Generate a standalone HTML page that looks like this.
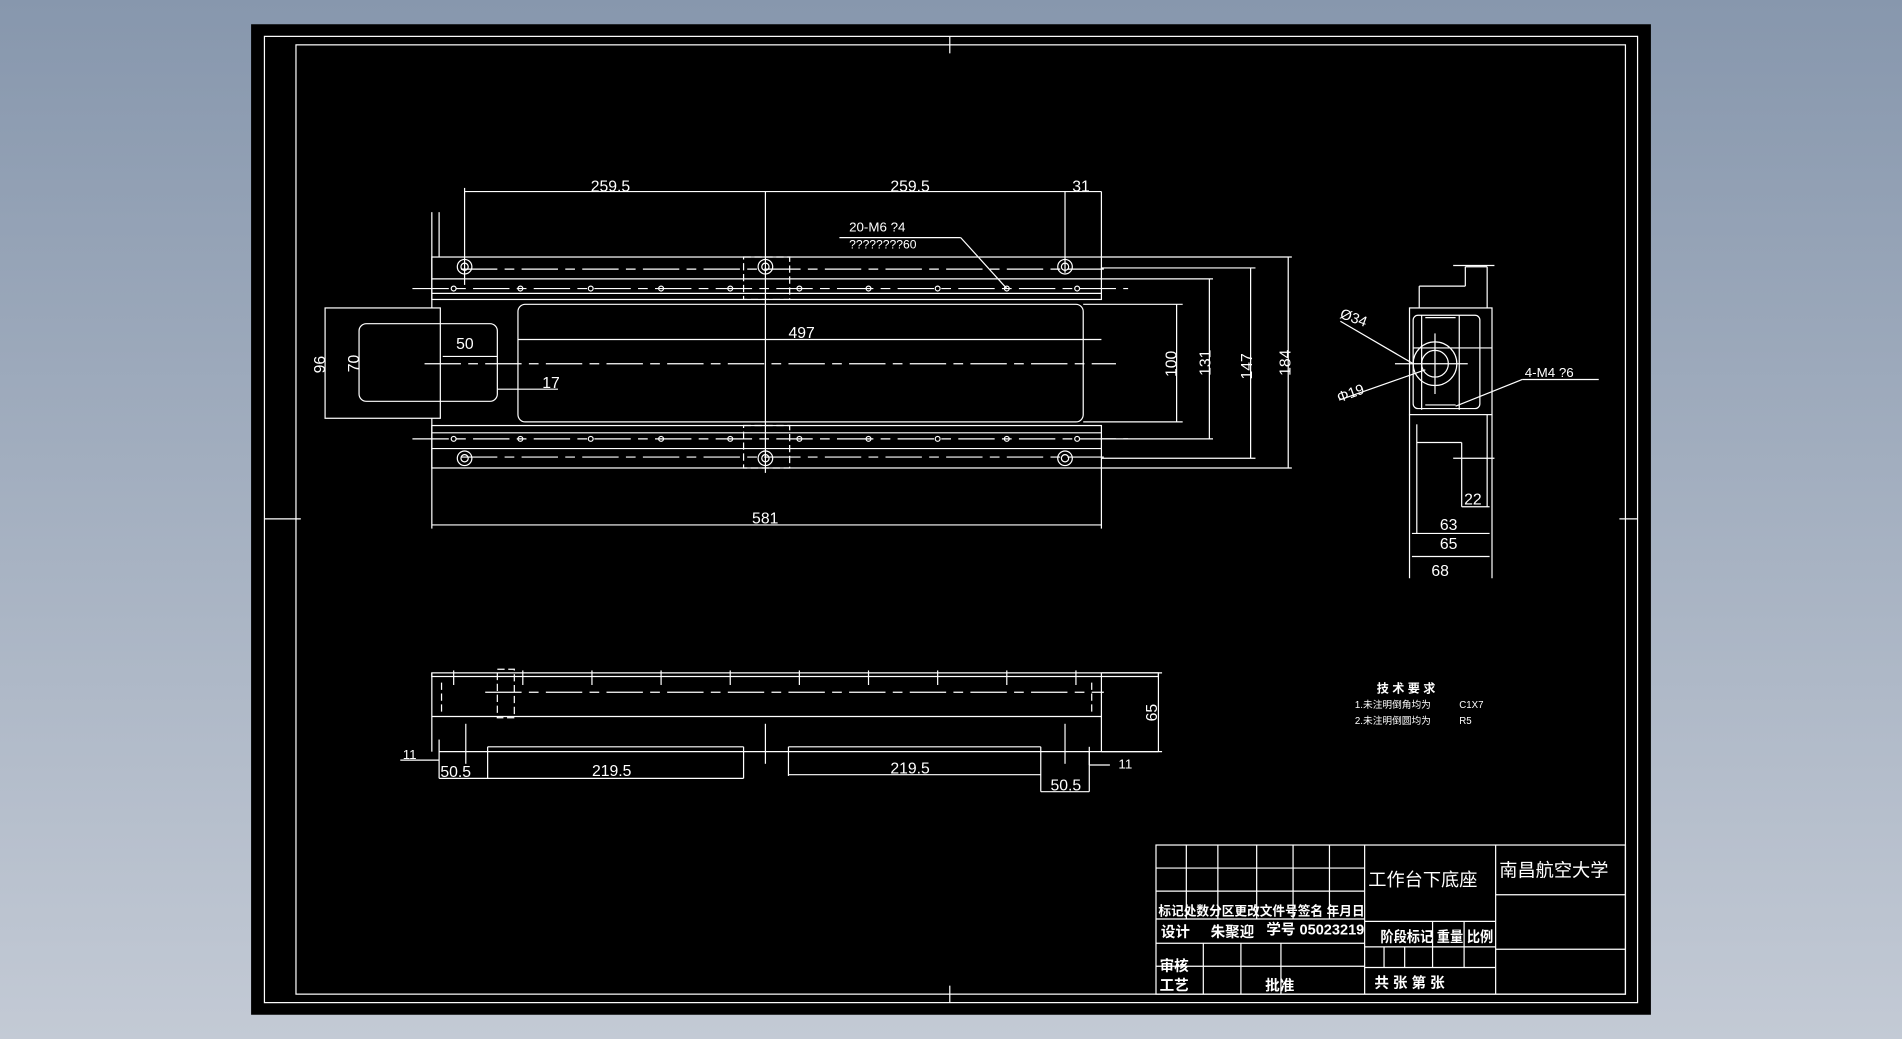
<!DOCTYPE html>
<html><head><meta charset="utf-8"><style>
html,body{margin:0;padding:0;width:1902px;height:1039px;overflow:hidden;background:linear-gradient(#8797ad,#c3cad5);}
svg{display:block}
text{fill:#fff;font-family:"Liberation Sans","Noto Sans CJK SC",sans-serif}
</style></head><body>
<svg width="1902" height="1039" viewBox="0 0 1568 857" preserveAspectRatio="none">
<rect x="207" y="20" width="1154" height="817" fill="#000"/>
<g stroke="#fff" stroke-width="1" fill="none">
<rect x="218" y="30" width="1132" height="797"/>
<rect x="244" y="37" width="1096" height="783"/>
<line x1="783" y1="30" x2="783" y2="44"/><line x1="783" y1="813" x2="783" y2="827"/>
<line x1="218" y1="428" x2="248" y2="428"/><line x1="1335" y1="428" x2="1350" y2="428"/>
<rect x="356" y="212" width="552" height="35"/>
<line x1="356" y1="230" x2="908" y2="230"/>
<line x1="356" y1="242" x2="908" y2="242"/>
<rect x="356" y="351" width="552" height="35"/>
<line x1="356" y1="357" x2="908" y2="357"/>
<line x1="356" y1="370" x2="908" y2="370"/>
<rect x="427" y="251" width="466" height="97" rx="6"/>
<rect x="268" y="254" width="95" height="91"/>
<rect x="296" y="267" width="114" height="64" rx="6"/>
<line x1="356" y1="175" x2="356" y2="254"/><line x1="362" y1="175" x2="362" y2="212"/>
<line x1="356" y1="345" x2="356" y2="386"/>
<g stroke-dasharray="30,6,8,6">
<line x1="340" y1="238" x2="930" y2="238"/>
<line x1="350" y1="300" x2="920" y2="300"/>
<line x1="340" y1="362" x2="930" y2="362"/>
<line x1="380" y1="222" x2="910" y2="222"/>
<line x1="380" y1="377" x2="910" y2="377"/>
</g>
<rect x="613" y="212" width="38" height="35" stroke-dasharray="6,3"/>
<rect x="613" y="351" width="38" height="35" stroke-dasharray="6,3"/>
<circle cx="383" cy="220" r="6"/><circle cx="383" cy="220" r="3"/>
<circle cx="631" cy="220" r="6"/><circle cx="631" cy="220" r="3"/>
<circle cx="878" cy="220" r="6"/><circle cx="878" cy="220" r="3"/>
<circle cx="383" cy="378" r="6"/><circle cx="383" cy="378" r="3"/>
<circle cx="631" cy="378" r="6"/><circle cx="631" cy="378" r="3"/>
<circle cx="878" cy="378" r="6"/><circle cx="878" cy="378" r="3"/>
<g>
<circle cx="374" cy="238" r="2"/><circle cx="429" cy="238" r="2"/><circle cx="487" cy="238" r="2"/><circle cx="545" cy="238" r="2"/><circle cx="602" cy="238" r="2"/><circle cx="659" cy="238" r="2"/><circle cx="716" cy="238" r="2"/><circle cx="773" cy="238" r="2"/><circle cx="830" cy="238" r="2"/><circle cx="888" cy="238" r="2"/>
<circle cx="374" cy="362" r="2"/><circle cx="429" cy="362" r="2"/><circle cx="487" cy="362" r="2"/><circle cx="545" cy="362" r="2"/><circle cx="602" cy="362" r="2"/><circle cx="659" cy="362" r="2"/><circle cx="716" cy="362" r="2"/><circle cx="773" cy="362" r="2"/><circle cx="830" cy="362" r="2"/><circle cx="888" cy="362" r="2"/>
</g>
<line x1="631" y1="158" x2="631" y2="390"/>
<line x1="383" y1="155" x2="383" y2="235"/><line x1="878" y1="158" x2="878" y2="225"/><line x1="908" y1="158" x2="908" y2="212"/>
<line x1="383" y1="158" x2="908" y2="158"/>
<line x1="692" y1="196" x2="792" y2="196"/><line x1="792" y1="196" x2="830" y2="238"/>
<line x1="356" y1="386" x2="356" y2="436"/><line x1="908" y1="386" x2="908" y2="436"/>
<line x1="356" y1="433" x2="908" y2="433"/>
<line x1="427" y1="280" x2="908" y2="280"/>
<line x1="410" y1="294" x2="365" y2="294"/><line x1="410" y1="321" x2="460" y2="321"/>
<line x1="893" y1="251" x2="975" y2="251"/><line x1="893" y1="348" x2="975" y2="348"/><line x1="970" y1="251" x2="970" y2="348"/>
<line x1="908" y1="230" x2="1000" y2="230"/><line x1="908" y1="362" x2="1000" y2="362"/><line x1="997" y1="230" x2="997" y2="362"/>
<line x1="908" y1="221" x2="1035" y2="221"/><line x1="908" y1="378" x2="1035" y2="378"/><line x1="1031" y1="221" x2="1031" y2="378"/>
<line x1="908" y1="212" x2="1065" y2="212"/><line x1="908" y1="386" x2="1065" y2="386"/><line x1="1062" y1="212" x2="1062" y2="386"/>
<rect x="1162" y="254" width="68" height="88"/>
<rect x="1165" y="260" width="55" height="77" rx="4"/>
<line x1="1170" y1="236" x2="1170" y2="254"/><line x1="1170" y1="236" x2="1208" y2="236"/><line x1="1208" y1="236" x2="1208" y2="220"/><line x1="1208" y1="220" x2="1226" y2="220"/><line x1="1226" y1="220" x2="1226" y2="254"/>
<line x1="1198" y1="219" x2="1232" y2="219"/><line x1="1165" y1="287" x2="1230" y2="287"/>
<line x1="1175" y1="262" x2="1200" y2="262"/><line x1="1175" y1="334" x2="1200" y2="334"/>
<line x1="1172" y1="260" x2="1172" y2="338"/><line x1="1203" y1="260" x2="1203" y2="338"/>
<circle cx="1183" cy="300" r="18"/><circle cx="1183" cy="300" r="11"/>
<line x1="1183" y1="275" x2="1183" y2="325"/><line x1="1150" y1="300" x2="1210" y2="300"/>
<line x1="1105" y1="265" x2="1165" y2="300"/><line x1="1104" y1="330" x2="1175" y2="305"/>
<line x1="1200" y1="335" x2="1255" y2="313"/><line x1="1255" y1="313" x2="1318" y2="313"/>
<line x1="1162" y1="342" x2="1162" y2="477"/><line x1="1230" y1="342" x2="1230" y2="477"/>
<line x1="1168" y1="350" x2="1168" y2="440"/><line x1="1168" y1="365" x2="1205" y2="365"/><line x1="1205" y1="365" x2="1205" y2="418"/><line x1="1205" y1="418" x2="1228" y2="418"/>
<line x1="1198" y1="378" x2="1232" y2="378"/><line x1="1226" y1="342" x2="1226" y2="418"/>
<line x1="1164" y1="440" x2="1228" y2="440"/><line x1="1164" y1="459" x2="1228" y2="459"/>
<rect x="356" y="555" width="599" height="3"/>
<line x1="356" y1="555" x2="356" y2="620"/><line x1="908" y1="555" x2="908" y2="620"/>
<line x1="356" y1="591" x2="908" y2="591"/>
<line x1="362" y1="620" x2="955" y2="620"/>
<line x1="955" y1="555" x2="955" y2="620"/>
<g stroke-dasharray="30,6,8,6"><line x1="400" y1="571" x2="910" y2="571"/></g>
<rect x="410" y="552" width="14" height="40" stroke-dasharray="6,3"/>
<line x1="364" y1="563" x2="364" y2="590" stroke-dasharray="6,3"/><line x1="900" y1="563" x2="900" y2="590" stroke-dasharray="6,3"/>
<g>
<line x1="374" y1="553" x2="374" y2="565"/><line x1="431" y1="553" x2="431" y2="565"/><line x1="488" y1="553" x2="488" y2="565"/><line x1="545" y1="553" x2="545" y2="565"/><line x1="602" y1="553" x2="602" y2="565"/><line x1="659" y1="553" x2="659" y2="565"/><line x1="716" y1="553" x2="716" y2="565"/><line x1="773" y1="553" x2="773" y2="565"/><line x1="830" y1="553" x2="830" y2="565"/><line x1="887" y1="553" x2="887" y2="565"/>
<line x1="384" y1="597" x2="384" y2="630"/><line x1="631" y1="597" x2="631" y2="630"/><line x1="878" y1="597" x2="878" y2="630"/>
</g>
<line x1="402" y1="616" x2="402" y2="642"/><line x1="402" y1="616" x2="613" y2="616"/><line x1="613" y1="616" x2="613" y2="642"/><line x1="362" y1="642" x2="613" y2="642"/>
<line x1="650" y1="616" x2="650" y2="640"/><line x1="650" y1="616" x2="858" y2="616"/><line x1="650" y1="639" x2="858" y2="639"/>
<line x1="858" y1="616" x2="858" y2="653"/><line x1="898" y1="616" x2="898" y2="653"/><line x1="858" y1="653" x2="898" y2="653"/>
<line x1="898" y1="620" x2="898" y2="631"/><line x1="898" y1="631" x2="915" y2="631"/>
<line x1="330" y1="627" x2="362" y2="627"/><line x1="362" y1="610" x2="362" y2="642"/>
<line x1="908" y1="620" x2="958" y2="620"/><line x1="908" y1="555" x2="958" y2="555"/>
<rect x="953" y="697" width="387" height="123"/>
<line x1="1125" y1="697" x2="1125" y2="820"/><line x1="1233" y1="697" x2="1233" y2="820"/>
<line x1="953" y1="716" x2="1125" y2="716"/><line x1="953" y1="735" x2="1125" y2="735"/><line x1="953" y1="758" x2="1125" y2="758"/>
<line x1="953" y1="778" x2="1125" y2="778"/><line x1="953" y1="797" x2="1125" y2="797"/>
<line x1="978" y1="697" x2="978" y2="758"/><line x1="1004" y1="697" x2="1004" y2="758"/><line x1="1036" y1="697" x2="1036" y2="758"/><line x1="1066" y1="697" x2="1066" y2="758"/><line x1="1096" y1="697" x2="1096" y2="758"/>
<line x1="992" y1="778" x2="992" y2="820"/><line x1="1023" y1="778" x2="1023" y2="820"/><line x1="1056" y1="778" x2="1056" y2="820"/>
<line x1="1125" y1="760" x2="1233" y2="760"/><line x1="1125" y1="781" x2="1233" y2="781"/><line x1="1125" y1="798" x2="1233" y2="798"/>
<line x1="1233" y1="738" x2="1340" y2="738"/><line x1="1233" y1="783" x2="1340" y2="783"/>
<line x1="1181" y1="760" x2="1181" y2="798"/><line x1="1207" y1="760" x2="1207" y2="798"/>
<line x1="1141" y1="781" x2="1141" y2="798"/><line x1="1158" y1="781" x2="1158" y2="798"/>
</g>
<g font-size="13">
<text x="487" y="158">259.5</text><text x="734" y="158">259.5</text><text x="884" y="158">31</text>
<text x="700" y="191" font-size="11">20-M6  ?4</text><text x="700" y="205" font-size="10">????????60</text>
<text x="650" y="279">497</text><text x="376" y="288">50</text><text x="447" y="320">17</text>
<text x="620" y="432">581</text>
<text transform="translate(268,308) rotate(-90)">96</text>
<text transform="translate(296,307) rotate(-90)">70</text>
<text transform="translate(970,311) rotate(-90)">100</text>
<text transform="translate(998,310) rotate(-90)">131</text>
<text transform="translate(1032,313) rotate(-90)">147</text>
<text transform="translate(1064,310) rotate(-90)">184</text>
<text transform="translate(1104,262) rotate(20)" font-size="12">Ø34</text>
<text transform="translate(1104,332) rotate(-20)" font-size="12">Φ19</text>
<text x="1257" y="311" font-size="11">4-M4  ?6</text>
<text x="1207" y="416">22</text><text x="1187" y="437">63</text><text x="1187" y="453">65</text><text x="1180" y="475">68</text>
<text transform="translate(954,595) rotate(-90)">65</text>
<text x="363" y="641">50.5</text><text x="488" y="640">219.5</text><text x="734" y="638">219.5</text><text x="866" y="652">50.5</text>
<text x="332" y="626" font-size="11">11</text><text x="922" y="634" font-size="11">11</text>
<text x="1135" y="571" font-size="10" font-weight="bold">技 术 要 求</text>
<text x="1117" y="584" font-size="8">1.未注明倒角均为</text><text x="1203" y="584" font-size="8">C1X7</text>
<text x="1117" y="597" font-size="8">2.未注明倒圆均为</text><text x="1203" y="597" font-size="8">R5</text>
<text x="1128" y="731" font-size="15">工作台下底座</text>
<text x="1236" y="723" font-size="15">南昌航空大学</text>
<text x="955" y="755" font-size="11" font-weight="bold" textLength="170" lengthAdjust="spacingAndGlyphs">标记处数分区更改文件号签名 年月日</text>
<text x="957" y="773" font-size="12" font-weight="bold">设计</text><text x="998" y="773" font-size="12" font-weight="bold">朱聚迎</text><text x="1044" y="771" font-size="12" font-weight="bold">学号 05023219</text>
<text x="1138" y="777" font-size="12" font-weight="bold" textLength="93" lengthAdjust="spacingAndGlyphs">阶段标记 重量 比例</text>
<text x="956" y="801" font-size="12" font-weight="bold">审核</text>
<text x="956" y="817" font-size="12" font-weight="bold">工艺</text><text x="1043" y="817" font-size="12" font-weight="bold">批准</text>
<text x="1133" y="815" font-size="12" font-weight="bold">共   张 第   张</text>
</g>
</svg>
</body></html>
